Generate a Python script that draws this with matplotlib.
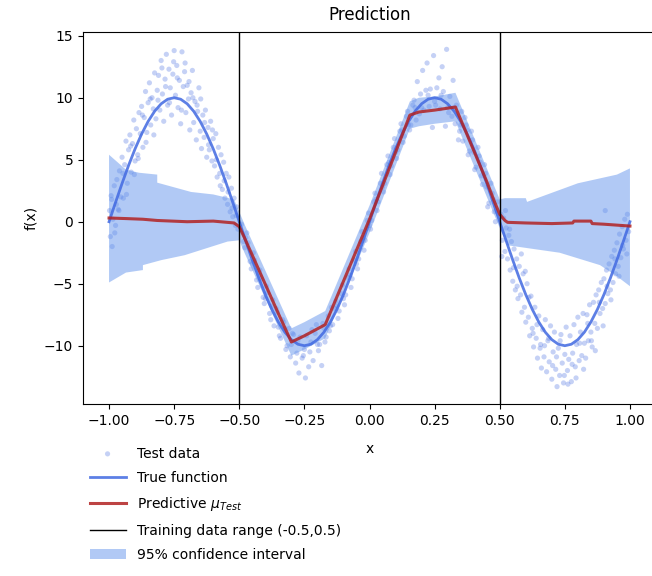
import matplotlib
matplotlib.use("Agg")
import matplotlib.pyplot as plt
import numpy as np

# true function
true_x = [-1.0, -0.975, -0.95, -0.925, -0.9, -0.875, -0.85, -0.825, -0.8, -0.775,
          -0.75, -0.725, -0.7, -0.675, -0.65, -0.625, -0.6, -0.575, -0.55, -0.525,
          -0.5, -0.475, -0.45, -0.425, -0.4, -0.375, -0.35, -0.325, -0.3, -0.275,
          -0.25, -0.225, -0.2, -0.175, -0.15, -0.125, -0.1, -0.075, -0.05, -0.025,
          0.0, 0.025, 0.05, 0.075, 0.1, 0.125, 0.15, 0.175, 0.2, 0.225,
          0.25, 0.275, 0.3, 0.325, 0.35, 0.375, 0.4, 0.425, 0.45, 0.475,
          0.5, 0.525, 0.55, 0.575, 0.6, 0.625, 0.65, 0.675, 0.7, 0.725,
          0.75, 0.775, 0.8, 0.825, 0.85, 0.875, 0.9, 0.925, 0.95, 0.975, 1.0]
true_y = [0.0, 1.56, 3.09, 4.54, 5.88, 7.07, 8.09, 8.91, 9.51, 9.88,
          10.0, 9.88, 9.51, 8.91, 8.09, 7.07, 5.88, 4.54, 3.09, 1.56,
          0.0, -1.56, -3.09, -4.54, -5.88, -7.07, -8.09, -8.91, -9.51, -9.88,
          -10.0, -9.88, -9.51, -8.91, -8.09, -7.07, -5.88, -4.54, -3.09, -1.56,
          0.0, 1.56, 3.09, 4.54, 5.88, 7.07, 8.09, 8.91, 9.51, 9.88,
          10.0, 9.88, 9.51, 8.91, 8.09, 7.07, 5.88, 4.54, 3.09, 1.56,
          0.0, -1.56, -3.09, -4.54, -5.88, -7.07, -8.09, -8.91, -9.51, -9.88,
          -10.0, -9.88, -9.51, -8.91, -8.09, -7.07, -5.88, -4.54, -3.09, -1.56, 0.0]

# predictive mean
mu_x = [-1.0, -0.93, -0.87, -0.815, -0.7, -0.6, -0.52, -0.5, -0.48, -0.45,
        -0.4, -0.35, -0.3, -0.25, -0.17, -0.1, 0.0, 0.1, 0.155, 0.19,
        0.25, 0.33, 0.4, 0.45, 0.48, 0.5, 0.52, 0.53, 0.6, 0.7,
        0.78, 0.785, 0.85, 0.855, 0.9, 1.0]
mu_y = [0.3, 0.25, 0.2, 0.1, 0.0, 0.05, -0.1, -0.4, -1.3, -2.7,
        -5.05, -7.4, -9.7, -9.2, -8.3, -4.8, 0.2, 5.6, 8.6, 8.85,
        9.0, 9.25, 5.75, 3.25, 1.6, 0.6, 0.1, -0.05, -0.1, -0.15,
        -0.1, 0.05, 0.05, -0.15, -0.2, -0.35]

# 95% confidence band, upper and lower edges
ci_up_x = [-1.0, -0.935, -0.885, -0.815, -0.815, -0.685, -0.6, -0.52, -0.5, -0.48,
           -0.3, -0.25, -0.17, 0.0, 0.155, 0.19, 0.25, 0.33, 0.5, 0.52,
           0.6, 0.605, 0.8, 0.95, 1.0]
ci_up_y = [5.4, 4.2, 3.95, 3.8, 3.15, 2.4, 2.2, 1.8, 0.8, -0.2,
           -8.6, -8.1, -7.2, 1.3, 9.7, 10.0, 10.1, 10.4, 1.8, 1.9,
           1.9, 1.6, 3.1, 3.8, 4.3]
ci_lo_x = [-1.0, -0.935, -0.87, -0.87, -0.8, -0.71, -0.545, -0.5, -0.48, -0.3,
           -0.25, -0.17, 0.0, 0.155, 0.19, 0.25, 0.33, 0.5, 0.53, 0.73,
           0.885, 0.95, 1.0]
ci_lo_y = [-4.9, -4.1, -3.9, -3.5, -3.1, -2.7, -1.6, -1.5, -2.5, -10.8,
           -10.3, -9.4, -0.9, 7.5, 7.7, 7.9, 8.1, -0.5, -1.9, -2.5,
           -3.5, -4.4, -5.2]

# test data, outside the training range (left side)
test_x_left = [-0.998, -0.995, -0.99, -0.985, -0.98, -0.975, -0.97, -0.965, -0.96, -0.955,
               -0.95, -0.945, -0.94, -0.935, -0.93, -0.925, -0.92, -0.915, -0.91, -0.905,
               -0.9, -0.895, -0.89, -0.885, -0.88, -0.875, -0.87, -0.865, -0.86, -0.855,
               -0.85, -0.845, -0.84, -0.835, -0.83, -0.825, -0.82, -0.815, -0.81, -0.805,
               -0.8, -0.795, -0.79, -0.785, -0.78, -0.775, -0.77, -0.765, -0.76, -0.755,
               -0.75, -0.745, -0.74, -0.735, -0.73, -0.725, -0.72, -0.715, -0.71, -0.705,
               -0.7, -0.695, -0.69, -0.685, -0.68, -0.675, -0.67, -0.665, -0.66, -0.655,
               -0.65, -0.645, -0.64, -0.635, -0.63, -0.625, -0.62, -0.615, -0.61, -0.605,
               -0.6, -0.595, -0.59, -0.585, -0.58, -0.575, -0.57, -0.565, -0.56, -0.555,
               -0.55, -0.545, -0.54, -0.535, -0.53, -0.525, -0.52, -0.515, -0.51, -0.505,
               -0.992, -0.978, -0.962, -0.947, -0.933, -0.917, -0.903, -0.888, -0.872, -0.858,
               -0.842, -0.828, -0.812, -0.797, -0.783, -0.768, -0.752, -0.738, -0.722, -0.708,
               -0.693, -0.678, -0.662, -0.648, -0.633, -0.618, -0.603, -0.588, -0.573, -0.558,
               -0.543, -0.528, -0.512, -0.988, -0.972]
test_y_left = [0.9, -1.2, 1.8, 0.2, 2.9, -0.3, 3.4, 1.0, 4.1, 2.0,
               5.2, 1.9, 4.6, 6.5, 3.1, 5.8, 7.0, 4.0, 6.3, 8.2,
               4.9, 7.5, 5.4, 8.8, 7.1, 9.3, 6.0, 8.4, 10.5, 7.2,
               9.6, 11.2, 7.8, 10.0, 9.1, 12.0, 8.3, 10.6, 11.8, 9.0,
               13.0, 10.3, 8.1, 11.5, 13.5, 9.4, 12.3, 10.8, 8.6, 11.9,
               13.8, 10.2, 12.6, 9.2, 11.4, 7.9, 13.7, 10.9, 12.1, 8.8,
               11.0, 9.9, 7.4, 10.4, 12.2, 8.0, 9.7, 6.6, 8.9, 10.8,
               7.3, 5.9, 8.6, 6.8, 9.0, 5.2, 7.6, 5.8, 8.1, 4.9,
               6.7, 4.5, 7.1, 3.6, 6.0, 3.9, 5.4, 2.6, 4.8, 1.9,
               3.9, 1.4, 3.6, 0.8, 2.7, 0.4, 1.9, -0.3, 1.2, -0.6,
               2.1, -0.9, 0.9, 3.9, 2.2, 6.1, 3.8, 5.1, 8.6, 6.4,
               9.9, 7.0, 9.8, 12.4, 10.9, 9.6, 12.9, 11.6, 9.0, 12.8,
               11.3, 10.0, 9.4, 9.9, 8.0, 6.2, 7.4, 5.0, 2.9, 3.3,
               2.4, 1.1, 0.5, -2.0, 1.4]

# test data inside the training range
test_x_mid = [-0.4915, -0.4835, -0.479, -0.471, -0.4665, -0.4585, -0.454, -0.446, -0.4415, -0.4335,
              -0.429, -0.421, -0.4165, -0.4085, -0.404, -0.396, -0.3915, -0.3835, -0.379, -0.371,
              -0.3665, -0.3585, -0.354, -0.346, -0.3415, -0.3335, -0.329, -0.321, -0.3165, -0.3085,
              -0.304, -0.296, -0.2915, -0.2835, -0.279, -0.271, -0.2665, -0.2585, -0.254, -0.246,
              -0.2415, -0.2335, -0.229, -0.221, -0.2165, -0.2085, -0.204, -0.196, -0.1915, -0.1835,
              -0.179, -0.171, -0.1665, -0.1585, -0.154, -0.146, -0.1415, -0.1335, -0.129, -0.121,
              -0.1165, -0.1085, -0.104, -0.096, -0.0915, -0.0835, -0.079, -0.071, -0.0665, -0.0585,
              -0.054, -0.046, -0.0415, -0.0335, -0.029, -0.021, -0.0165, -0.0085, -0.004, 0.004,
              0.0085, 0.0165, 0.021, 0.029, 0.0335, 0.0415, 0.046, 0.054, 0.0585, 0.0665,
              0.071, 0.079, 0.0835, 0.0915, 0.096, 0.104, 0.1085, 0.1165, 0.121, 0.129,
              0.1335, 0.1415, 0.146, 0.154, 0.1585, 0.1665, 0.171, 0.179, 0.1835, 0.1915,
              0.196, 0.204, 0.2085, 0.2165, 0.221, 0.229, 0.2335, 0.2415, 0.246, 0.254,
              0.2585, 0.2665, 0.271, 0.279, 0.2835, 0.2915, 0.296, 0.304, 0.3085, 0.3165,
              0.321, 0.329, 0.3335, 0.3415, 0.346, 0.354, 0.3585, 0.3665, 0.371, 0.379,
              0.3835, 0.3915, 0.396, 0.404, 0.4085, 0.4165, 0.421, 0.429, 0.4335, 0.4415,
              0.446, 0.454, 0.4585, 0.4665, 0.471, 0.479, 0.4835, 0.4915,
              -0.475, -0.45, -0.425, -0.4, -0.375, -0.35, -0.325, -0.3, -0.275, -0.25,
              -0.225, -0.2, -0.175, -0.15, -0.125, -0.1, -0.075, -0.05, -0.025, 0.0,
              0.025, 0.05, 0.075, 0.1, 0.125, 0.15, 0.175, 0.2, 0.225, 0.25,
              0.275, 0.3, 0.325, 0.35, 0.375, 0.4, 0.425, 0.45, 0.475]
test_y_mid = [-0.2, -1.6, -2.1, -0.9, -1.7, -3.2, -3.8, -2.5, -3.1, -4.7,
              -5.3, -3.9, -4.6, -6.1, -6.6, -5.2, -5.7, -7.4, -7.9, -6.3,
              -8.4, -7.0, -7.3, -9.2, -9.4, -7.9, -8.1, -10.3, -10.0, -8.6,
              -10.9, -9.0, -9.1, -11.4, -10.6, -12.2, -9.3, -11.0, -10.8, -12.6,
              -9.2, -11.7, -10.5, -8.7, -11.2, -9.0, -8.3, -10.4, -9.9, -11.6,
              -8.2, -9.7, -9.3, -7.6, -8.8, -6.9, -8.3, -7.0, -6.4, -7.8,
              -7.2, -5.8, -5.1, -6.7, -5.9, -4.5, -3.8, -5.3, -4.6, -3.1,
              -2.4, -3.8, -3.0, -1.6, -0.8, -2.3, -1.5, 0.1, 0.7, -0.6,
              0.1, 1.6, 2.3, 0.9, 1.6, 3.1, 3.9, 2.4, 3.1, 4.6,
              5.3, 3.8, 4.5, 6.0, 6.7, 5.1, 5.8, 7.3, 7.9, 6.4,
              6.9, 8.5, 8.9, 7.4, 7.8, 9.4, 9.8, 8.2, 11.3, 8.7,
              10.3, 12.2, 9.0, 10.6, 12.8, 9.3, 10.7, 7.6, 13.4, 9.4,
              10.8, 11.6, 9.1, 12.5, 10.5, 7.7, 13.9, 8.8, 10.1, 8.5,
              11.4, 7.9, 9.4, 6.6, 7.3, 8.9, 6.5, 8.4, 7.8, 5.4,
              5.7, 7.3, 6.6, 4.2, 4.4, 6.0, 5.3, 3.7, 3.0, 4.6,
              3.9, 1.2, 1.5, 3.1, 2.3, 0.8, 0.0, 1.6,
              -1.3, -3.4, -4.3, -6.2, -6.8, -8.5, -8.6, -9.9, -9.6, -10.3,
              -9.7, -9.9, -8.6, -8.4, -6.8, -6.2, -4.3, -3.4, -1.3, -0.3,
              1.8, 2.8, 4.8, 5.6, 7.4, 7.8, 9.2, 9.2, 10.2, 9.7,
              10.2, 9.2, 9.2, 7.8, 7.4, 5.6, 4.8, 2.8, 1.8]

# test data, outside the training range (right side)
test_x_right = [0.505, 0.51, 0.515, 0.52, 0.525, 0.53, 0.535, 0.54, 0.545, 0.55,
                0.555, 0.56, 0.565, 0.57, 0.575, 0.58, 0.585, 0.59, 0.595, 0.6,
                0.605, 0.61, 0.615, 0.62, 0.625, 0.63, 0.635, 0.64, 0.645, 0.65,
                0.655, 0.66, 0.665, 0.67, 0.675, 0.68, 0.685, 0.69, 0.695, 0.7,
                0.705, 0.71, 0.715, 0.72, 0.725, 0.73, 0.735, 0.74, 0.745, 0.75,
                0.755, 0.76, 0.765, 0.77, 0.775, 0.78, 0.785, 0.79, 0.795, 0.8,
                0.805, 0.81, 0.815, 0.82, 0.825, 0.83, 0.835, 0.84, 0.845, 0.85,
                0.855, 0.86, 0.865, 0.87, 0.875, 0.88, 0.885, 0.89, 0.895, 0.9,
                0.905, 0.91, 0.915, 0.92, 0.925, 0.93, 0.935, 0.94, 0.945, 0.95,
                0.955, 0.96, 0.965, 0.97, 0.975, 0.98, 0.985, 0.99, 0.995,
                0.508, 0.522, 0.538, 0.553, 0.567, 0.583, 0.598, 0.612, 0.628, 0.643,
                0.657, 0.672, 0.688, 0.703, 0.718, 0.732, 0.748, 0.762, 0.778, 0.793,
                0.807, 0.822, 0.838, 0.852, 0.867, 0.882, 0.897, 0.912, 0.927, 0.942,
                0.958, 0.972, 0.988, 0.905]
test_y_right = [0.6, -1.5, 0.3, -2.4, -0.5, -3.0, -1.1, -3.9, -1.6, -4.8,
                -2.2, -5.5, -3.0, -6.2, -3.6, -5.9, -7.3, -4.2, -6.9, -8.1,
                -5.0, -7.7, -9.2, -6.0, -8.6, -10.1, -6.9, -9.4, -11.0, -7.6,
                -10.2, -11.8, -8.7, -10.9, -7.9, -12.1, -9.6, -11.3, -8.4, -12.7,
                -10.5, -8.9, -11.9, -13.3, -10.2, -12.4, -9.1, -11.4, -13.0, -10.7,
                -8.5, -12.0, -11.1, -9.2, -12.9, -10.6, -8.3, -11.7, -9.9, -7.7,
                -11.2, -8.9, -10.8, -7.4, -9.8, -11.0, -7.5, -9.6, -6.7, -8.9,
                -10.1, -6.5, -8.2, -5.9, -8.6, -5.5, -7.4, -4.9, -7.0, -4.6,
                -6.6, -3.9, -5.8, -3.4, -5.5, -2.8, -4.9, -2.3, -4.2, -1.7,
                -3.6, -1.0, -2.9, -0.4, -2.2, 0.2, -1.5, 0.6, -0.8,
                -2.8, 0.9, -0.6, -3.7, -5.2, -2.6, -4.0, -6.1, -9.0, -8.3,
                -9.9, -10.0, -9.4, -11.6, -10.9, -9.6, -12.4, -13.1, -11.5, -12.6,
                -9.8, -11.9, -8.2, -9.6, -10.4, -6.5, -8.4, -5.2, -6.3, -3.0,
                -4.4, -1.9, -2.6, 0.9]

train_range = [-0.5, 0.5]

test_x = test_x_left + test_x_mid + test_x_right
test_y = test_y_left + test_y_mid + test_y_right

fig = plt.figure(figsize=(6.52, 5.76), dpi=100)
ax = fig.add_axes([83 / 652, 172 / 576, 573 / 652, 372 / 576])

ax.scatter(test_x, test_y, s=14, color="royalblue", alpha=0.3,
           edgecolors="none", label="Test data")
ax.plot(true_x, true_y, color="royalblue", lw=2, alpha=0.85,
        label="True function")
ax.fill(np.concatenate([ci_up_x, ci_lo_x[::-1]]),
        np.concatenate([ci_up_y, ci_lo_y[::-1]]),
        color="cornflowerblue", alpha=0.5, lw=0,
        label="95% confidence interval")
ax.plot(mu_x, mu_y, color="firebrick", lw=2.2, alpha=0.85,
        label=r"Predictive $\mu_{Test}$")
for xv in train_range:
    ax.axvline(xv, color="black", lw=1)

ax.set_xlim(-1.1, 1.1)
ax.set_ylim(-14.7, 15.3)
ax.set_xticks([-1.0, -0.75, -0.5, -0.25, 0.0, 0.25, 0.5, 0.75, 1.0])
ax.set_yticks([-10, -5, 0, 5, 10, 15])
ax.set_xlabel("x", labelpad=10)
ax.set_ylabel("f(x)")
ax.set_title("Prediction", pad=9)

h, l = ax.get_legend_handles_labels()
vline = plt.Line2D([], [], color="black", lw=1)
handles = [h[0], h[1], h[3], vline, h[2]]
labels = ["Test data", "True function", r"Predictive $\mu_{Test}$",
          "Training data range (-0.5,0.5)", "95% confidence interval"]
fig.legend(handles, labels, loc="upper left",
           bbox_to_anchor=(77 / 652, 1 - 434 / 576),
           frameon=False, labelspacing=0.75, handlelength=2.6)

fig.savefig("out.png", dpi=100)
